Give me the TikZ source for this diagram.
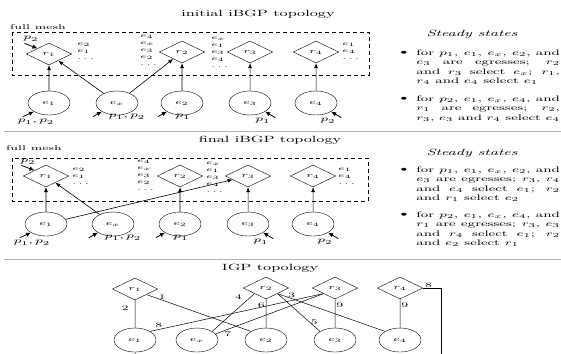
\documentclass[tikz,border=0pt]{standalone}
\usepackage{amsmath,amssymb}
\usepackage{xcolor}
\usepackage{tikz}
\usetikzlibrary{arrows.meta,shapes.geometric,calc}

\begin{document}
\begin{tikzpicture}[
  x=0.5714pt, y=-1pt, xscale=1.75,
  every node/.append style={transform shape},
  font=\scriptsize, >={Latex[length=5pt,width=4pt]},
  rtr/.style={draw,diamond,aspect=1.2,minimum width=26pt,minimum height=22pt,inner sep=0pt},
  egr/.style={draw,circle,minimum size=24pt,inner sep=0pt},
  rib/.style={font=\fontsize{6}{7}\selectfont,align=left,inner sep=0pt,anchor=west},
  ttl/.style={font=\small}, sshead/.style={font=\small\itshape},
  pfx/.style={font=\footnotesize,inner sep=0pt},
  inj/.style={-{Latex[length=5pt,width=4.5pt]},line width=0.8pt},
  sel/.style={->,line width=0.6pt}, lnk/.style={line width=0.5pt},
  wt/.style={inner sep=0.5pt},
  meshbox/.style={dash pattern=on 4pt off 3pt,line width=0.5pt},
  sepline/.style={gray!60,line width=1pt},
  bul/.style={inner sep=0pt},
  txt/.style={font=\footnotesize,text width=82pt,align=justify,inner sep=0pt,anchor=north west}]
\useasboundingbox (0,0) rectangle (561,353);
% initial iBGP topology
\node[ttl] (t1) at (258,14) {initial iBGP topology};
\node (fm1) at (38,27) {full mesh};
\draw[meshbox] (12,32) rectangle (369,75);
\node[rtr] (r1i) at (49,54) {$r_1$};
\node[rtr] (r2i) at (182,52) {$r_2$};
\node[rtr] (r3i) at (250,52) {$r_3$};
\node[rtr] (r4i) at (316,52) {$r_4$};
\node[egr] (e1i) at (49,103) {$e_1$};
\node[egr] (exi) at (117,103) {$e_x$};
\node[egr] (e2i) at (182,103) {$e_2$};
\node[egr] (e3i) at (250,103) {$e_3$};
\node[egr] (e4i) at (316,103) {$e_4$};
\node[rib] (l1i) at (77,51) {$e_2$\\$e_1$\\$\dots$};
\node[rib] (l2i) at (140,50) {$e_4$\\$e_x$\\$e_3$\\$e_2$\\$\dots$};
\node[rib] (l3i) at (211,52) {$e_x$\\$e_1$\\$e_3$\\$e_4$\\$\dots$};
\node[rib] (l4i) at (342,51) {$e_1$\\$e_4$\\$\dots$};
\draw[sel] (e1i) -- (r1i);
\draw[sel] (exi) -- (r1i);
\draw[sel] (exi) -- (r2i);
\draw[sel] (e2i) -- (r2i);
\draw[sel] (e3i) -- (r3i);
\draw[sel] (e4i) -- (r4i);
\coordinate (q0i) at ($(r1i.north west)+(-13,-5)$); \draw[inj] (q0i) -- (r1i.north west);
\node[pfx] (p0i) at (31,39) {$p_2$};
\coordinate (q1i) at ($(e1i.south west)+(-11,5)$); \draw[inj] (q1i) -- (e1i.south west);
\node[pfx] (p1i) at (36,122) {$p_1, p_2$};
\coordinate (qxi) at ($(exi.south west)+(-9,5)$); \draw[inj] (qxi) -- (exi.south west);
\node[pfx] (pxi) at (127,117) {$p_1, p_2$};
\coordinate (q2i) at ($(e2i.south west)+(-9,5)$); \draw[inj] (q2i) -- (e2i.south west);
\node[pfx] (p2i) at (183,117) {$p_1$};
\coordinate (q3i) at ($(e3i.south east)+(10,6)$); \draw[inj] (q3i) -- (e3i.south east);
\node[pfx] (p3i) at (263,121) {$p_1$};
\coordinate (q4i) at ($(e4i.south east)+(10,6)$); \draw[inj] (q4i) -- (e4i.south east);
\node[pfx] (p4i) at (328,121) {$p_2$};
\node[sshead] (s1i) at (472,34) {Steady states};
\node[bul] (d1i) at (404,53) {$\bullet$};
\node[txt] (b1i) at (416,49.5) {for $p_1$, $e_1$, $e_x$, $e_2$, and\linebreak $e_3$ are egresses; $r_2$\linebreak and $r_3$ select $e_x$; $r_1$,\linebreak $r_4$ and $e_4$ select $e_1$};
\node[bul] (d2i) at (404,99) {$\bullet$};
\node[txt] (b2i) at (416,95.5) {for $p_2$, $e_1$, $e_x$, $e_4$, and\linebreak $r_1$ are egresses; $r_2$,\linebreak $r_3$, $e_3$ and $r_4$ select $e_4$};
\draw[sepline] (4,131) -- (561,131);
% final iBGP topology
\node[ttl] (t2) at (270,140) {final iBGP topology};
\node (fm2) at (34,148) {full mesh};
\draw[meshbox] (12,158) rectangle (368,201);
\node[rtr] (r1f) at (46,176) {$r_1$};
\node[rtr] (r2f) at (180,176) {$r_2$};
\node[rtr] (r3f) at (248,176) {$r_3$};
\node[rtr] (r4f) at (313,176) {$r_4$};
\node[egr] (e1f) at (46,224) {$e_1$};
\node[egr] (exf) at (113,224) {$e_x$};
\node[egr] (e2f) at (180,224) {$e_2$};
\node[egr] (e3f) at (248,224) {$e_3$};
\node[egr] (e4f) at (313,224) {$e_4$};
\node[rib] (l1f) at (72,176) {$e_2$\\$e_1$\\$\dots$};
\node[rib] (l2f) at (137,175) {$e_4$\\$e_x$\\$e_3$\\$e_2$\\$\dots$};
\node[rib] (l3f) at (206,177) {$e_x$\\$e_1$\\$e_3$\\$e_4$\\$\dots$};
\node[rib] (l4f) at (338,176) {$e_1$\\$e_4$\\$\dots$};
\draw[sel] (e1f) -- (r1f);
\draw[sel] (exf) -- (r1f);
\draw[sel] (e1f) -- (r3f);
\draw[sel] (e2f) -- (r2f);
\draw[sel] (e3f) -- (r3f);
\draw[sel] (e4f) -- (r4f);
\coordinate (q0f) at ($(r1f.north west)+(-13,-5)$); \draw[inj] (q0f) -- (r1f.north west);
\node[pfx] (p0f) at (28,162) {$p_2$};
\coordinate (q1f) at ($(e1f.south west)+(-11,5)$); \draw[inj] (q1f) -- (e1f.south west);
\node[pfx] (p1f) at (32,243) {$p_1, p_2$};
\coordinate (qxf) at ($(exf.south west)+(-9,5)$); \draw[inj] (qxf) -- (exf.south west);
\node[pfx] (pxf) at (123,238) {$p_1, p_2$};
\coordinate (q2f) at ($(e2f.south west)+(-9,5)$); \draw[inj] (q2f) -- (e2f.south west);
\node[pfx] (p2f) at (181,238) {$p_1$};
\coordinate (q3f) at ($(e3f.south east)+(10,6)$); \draw[inj] (q3f) -- (e3f.south east);
\node[pfx] (p3f) at (261,242) {$p_1$};
\coordinate (q4f) at ($(e4f.south east)+(10,6)$); \draw[inj] (q4f) -- (e4f.south east);
\node[pfx] (p4f) at (325,242) {$p_2$};
\node[sshead] (s1f) at (472,153) {Steady states};
\node[bul] (d1f) at (404,170) {$\bullet$};
\node[txt] (b1f) at (416,166.5) {for $p_1$, $e_1$, $e_x$, $e_2$, and\linebreak $e_3$ are egresses; $r_3$, $r_4$\linebreak and $e_4$ select $e_1$; $r_2$\linebreak and $r_1$ select $e_2$};
\node[bul] (d2f) at (404,215) {$\bullet$};
\node[txt] (b2f) at (416,211.5) {for $p_2$, $e_1$, $e_x$, $e_4$, and\linebreak $r_1$ are egresses; $r_3$, $e_3$\linebreak and $r_4$ select $e_1$; $r_2$\linebreak and $e_2$ select $r_1$};
\draw[sepline] (4,259) -- (561,259);
% IGP topology
\node[ttl] (t3) at (270,268) {IGP topology};
\node[rtr] (r1g) at (135,289) {$r_1$};
\node[rtr] (r2g) at (266,288) {$r_2$};
\node[rtr] (r3g) at (335,288) {$r_3$};
\node[rtr] (r4g) at (400,288) {$r_4$};
\node[egr] (e1g) at (135,340) {$e_1$};
\node[egr] (exg) at (197,340) {$e_x$};
\node[egr] (e2g) at (266,340) {$e_2$};
\node[egr] (e3g) at (335,340) {$e_3$};
\node[egr] (e4g) at (400,340) {$e_4$};
\coordinate (c4g) at (441,288);
\coordinate (d4g) at (441,362);
\coordinate (d1g) at (135,362);
\draw[lnk] (r1g) -- node[wt,pos=0.3,left=3pt]{2} (e1g);
\draw[lnk] (r1g.south east) -- node[wt,pos=0.15,above]{1} (e2g.north west);
\draw[lnk] (r2g.south west) -- node[wt,pos=0.1,left=4pt]{4} (exg.north east);
\draw[lnk] (r2g) -- node[wt,pos=0.2,left]{6} (e2g);
\draw[lnk] (r2g.south east) -- node[wt,pos=0.13,above]{3} (e4g.north west);
\draw[lnk] (r2g.south east) -- node[wt,pos=0.75,right]{5} (e3g.north west);
\draw[lnk] (e1g.north east) -- node[wt,pos=0.05,above=1.5pt]{8} (r3g.south west);
\draw[lnk] (exg.30) -- node[wt,pos=0.07,below right=0pt]{7} (r3g.south west);
\draw[lnk] (r3g) -- node[wt,pos=0.2,right]{9} (e3g);
\draw[lnk] (r4g) -- node[wt,pos=0.2,right]{9} (e4g);
\draw[lnk] (r4g.east) -- node[wt,pos=0.3,above]{8} (c4g) -- (d4g);
\draw[lnk] (e1g) -- (d1g);
\end{tikzpicture}
\end{document}
